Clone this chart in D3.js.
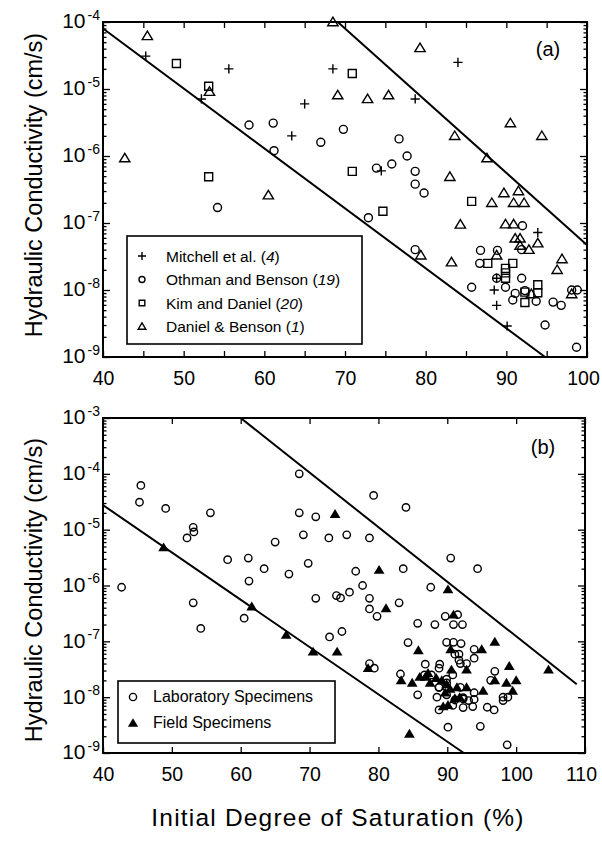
<!DOCTYPE html>
<html><head><meta charset="utf-8">
<script src="https://cdn.jsdelivr.net/npm/d3@7"></script>
<style>
body{margin:0;background:#fff}
svg{display:block}
text{font-family:"Liberation Sans",Arial,Helvetica,sans-serif;fill:#000}
</style>
</head><body><svg id="c" width="602" height="841"></svg>
<script>
// ---- data: [initial degree of saturation (%), hydraulic conductivity (cm/s)] ----
const mitchell = [[45.3,3.1e-5],[52.2,7.1e-6],[55.6,2.0e-5],[65.0,6.0e-6],[63.4,2.0e-6],[68.5,2.0e-5],[84.0,2.5e-5],[78.7,7.1e-6],[74.5,6.0e-7],[93.9,7.2e-8],[88.5,1.0e-8],[88.8,5.9e-9],[90.1,2.9e-9],[88.8,1.5e-8]];
const othman = [[58.1,2.9e-6],[61.1,3.1e-6],[61.2,1.2e-6],[67.0,1.6e-6],[54.2,1.7e-7],[69.8,2.5e-6],[76.7,1.8e-6],[77.7,1.0e-6],[75.8,7.6e-7],[73.9,6.6e-7],[78.7,5.9e-7],[78.7,3.8e-7],[79.8,2.8e-7],[72.9,1.2e-7],[78.7,4.0e-8],[85.7,1.1e-8],[94.8,3.0e-9],[98.7,1.4e-9],[95.8,6.6e-9],[96.8,5.9e-9],[98.1,1.0e-8],[98.8,1.0e-8],[92.0,9.1e-8],[86.8,3.9e-8],[88.9,3.9e-8],[86.7,2.5e-8],[88.8,1.5e-8],[89.9,1.1e-8],[91.9,1.5e-8],[91.1,8.9e-9],[90.8,7.1e-9],[92.3,9.8e-9],[93.7,6.8e-9],[91.9,4.0e-8]];
const kim = [[49.1,2.4e-5],[53.1,1.1e-5],[53.1,4.9e-7],[70.9,1.7e-5],[70.9,5.9e-7],[74.7,1.5e-7],[85.7,2.1e-7],[87.7,2.5e-8],[89.9,2.1e-8],[90.8,2.5e-8],[89.9,1.8e-8],[89.9,1.5e-8],[92.3,9.3e-9],[92.3,6.5e-9],[93.9,1.2e-8],[93.9,9.1e-9]];
const danielBenson = [[45.5,6.2e-5],[42.7,9.3e-7],[53.2,9.1e-6],[60.5,2.6e-7],[68.5,1.0e-4],[79.3,4.1e-5],[69.1,8.1e-6],[72.8,7.1e-6],[75.4,8.1e-6],[90.5,3.1e-6],[94.4,2.0e-6],[83.6,2.0e-6],[87.6,9.3e-7],[83.0,4.9e-7],[89.7,2.8e-7],[91.5,3.0e-7],[88.2,2.0e-7],[90.9,2.0e-7],[92.2,2.0e-7],[84.3,9.5e-8],[89.9,9.6e-8],[90.9,9.6e-8],[91.1,5.9e-8],[91.7,5.9e-8],[91.7,4.6e-8],[92.8,4.0e-8],[93.9,5.0e-8],[79.4,3.3e-8],[83.2,2.6e-8],[88.8,3.3e-8],[96.9,2.9e-8],[96.3,2.0e-8],[98.1,8.7e-9],[93.1,8.7e-9]];
const field = [[48.8,4.8e-6],[61.6,4.2e-7],[66.6,1.3e-7],[70.5,6.5e-8],[73.7,1.9e-5],[80.1,1.9e-6],[81.1,3.9e-7],[74.0,6.5e-8],[78.5,3.3e-8],[90.1,8.5e-7],[90.9,3.0e-7],[96.9,9.8e-8],[104.7,3.1e-8],[84.5,2.2e-9],[85.8,6.9e-8],[95.0,7.2e-8],[99.0,3.6e-8],[96.9,2.0e-8],[98.6,1.8e-8],[100.0,2.0e-8],[99.5,1.3e-8],[95.2,1.3e-8],[92.8,3.1e-8],[92.8,1.5e-8],[90.5,7.2e-8],[83.3,2.0e-8],[84.9,1.8e-8],[86.0,2.3e-8],[86.8,2.3e-8],[87.5,1.8e-8],[87.2,2.7e-8],[88.4,2.2e-8],[89.2,2.0e-8],[89.9,1.7e-8],[90.6,3.1e-8],[90.4,1.4e-8],[89.7,1.2e-8],[91.4,1.5e-8],[91.8,1.0e-8],[90.1,7.2e-9],[89.4,6.8e-9],[91.1,9.5e-9]];
const laboratory = [].concat(mitchell, othman, kim, danielBenson);

const boundsA = [[[40,8.0e-5],[94.8,1e-9]], [[69.1,1e-4],[100,4.7e-8]]];
const boundsB = [[[40,2.75e-5],[92.4,1e-9]], [[60,1e-3],[108.8,1.7e-8]]];

const xTickLabelsA = [40,50,60,70,80,90,100];
const xTicksA = [40,45,50,55,60,65,70,75,80,85,90,95,100];
const xTickLabelsB = [40,50,60,70,80,90,100,110];
const yExpA = [-9,-8,-7,-6,-5,-4];
const yExpB = [-9,-8,-7,-6,-5,-4,-3];

const legendA = [["Mitchell et al.","4"],["Othman and Benson","19"],["Kim and Daniel","20"],["Daniel & Benson","1"]];
const legendB = ["Laboratory Specimens","Field Specimens"];
const yTitle = "Hydraulic Conductivity (cm/s)";
const xTitle = "Initial Degree of Saturation (%)";

// ---- drawing ----
const svg = d3.select("#c");

const shapes = {
  plus: s => `M${-s},0H${s}M0,${-s}V${s}`,
  square: s => `M${-s},${-s}H${s}V${s}H${-s}Z`,
  tri: s => `M0,${-s*1.05}L${s*1.12},${s*0.8}L${-s*1.12},${s*0.8}Z`
};

function panel(o){
  const g = svg.append("g");
  const x = d3.scaleLinear().domain(o.xDomain).range([o.left,o.right]);
  const y = d3.scaleLog().domain(o.yDomain).range([o.bottom,o.top]);
  const decades = o.yExp.map(e => Math.pow(10,e));
  const minors = [];
  for (let i=0;i<o.yExp.length-1;i++) for (let m=2;m<10;m++) minors.push(m*Math.pow(10,o.yExp[i]));

  const axG = (gen, tr) => {
    const a = g.append("g").attr("transform", tr).call(gen);
    a.select(".domain").remove();
    a.selectAll(".tick line").attr("stroke","#000").attr("stroke-width",1.3);
    return a;
  };
  // x axes
  const bx = axG(d3.axisBottom(x).tickValues(o.xTicks).tickSizeInner(-6).tickSizeOuter(0).tickPadding(o.xPad)
      .tickFormat(d => o.xLabels.includes(d) ? d : ""), `translate(0,${o.bottom})`);
  bx.selectAll(".tick text").attr("font-size",19.5).attr("fill","#000").attr("font-family",null)
    .attr("dx", d => (x(d) > 580 ? -4 : 0));
  axG(d3.axisTop(x).tickValues(o.xTicks).tickSizeInner(-6).tickSizeOuter(0).tickFormat(""), `translate(0,${o.top})`);
  // y axes major
  const ly = axG(d3.axisLeft(y).tickValues(decades).tickSizeInner(-7).tickSizeOuter(0).tickPadding(3), `translate(${o.left},0)`);
  ly.selectAll(".tick text").attr("font-family",null).attr("font-size",21).attr("fill","#000").attr("dy","0.28em").text(null)
    .each(function(d){
      const t = d3.select(this);
      const e = Math.round(Math.log10(d));
      t.append("tspan").text("10");
      t.append("tspan").attr("font-size",14).attr("dx",2).attr("dy",-8.5).text("-" + Math.abs(e));
    });
  axG(d3.axisRight(y).tickValues(decades).tickSizeInner(-7).tickSizeOuter(0).tickFormat(""), `translate(${o.right},0)`);
  // minor
  axG(d3.axisLeft(y).tickValues(minors).tickSizeInner(-3.5).tickSizeOuter(0).tickFormat(""), `translate(${o.left},0)`);
  axG(d3.axisRight(y).tickValues(minors).tickSizeInner(-3.5).tickSizeOuter(0).tickFormat(""), `translate(${o.right},0)`);

  // frame
  g.append("rect").attr("x",o.left).attr("y",o.top).attr("width",o.right-o.left).attr("height",o.bottom-o.top)
    .attr("fill","none").attr("stroke","#000").attr("stroke-width",2);

  const pg = g.append("g");
  // bound lines
  const line = d3.line().x(d=>x(d[0])).y(d=>y(d[1]));
  pg.selectAll("path.bound").data(o.bounds).join("path").attr("class","bound")
    .attr("d",line).attr("fill","none").attr("stroke","#000").attr("stroke-width",2);

  const mk = pg.append("g");
  return {g, x, y, mk};
}

// Panel (a)
const A = panel({id:"a", xDomain:[40,100], yDomain:[1e-9,1e-4], left:103, right:587, top:22, bottom:357,
  xTicks:xTicksA, xLabels:xTickLabelsA, yExp:yExpA, xPad:14, bounds:boundsA});
const sw = 1.4;
A.mk.selectAll("circle.o").data(othman).join("circle").attr("class","o")
  .attr("cx",d=>A.x(d[0])).attr("cy",d=>A.y(d[1])).attr("r",4).attr("fill","none").attr("stroke","#000").attr("stroke-width",sw);
A.mk.selectAll("path.k").data(kim).join("path").attr("class","k")
  .attr("transform",d=>`translate(${A.x(d[0])},${A.y(d[1])})`).attr("d",shapes.square(4)).attr("fill","none").attr("stroke","#000").attr("stroke-width",sw);
A.mk.selectAll("path.d").data(danielBenson).join("path").attr("class","d")
  .attr("transform",d=>`translate(${A.x(d[0])},${A.y(d[1])})`).attr("d",shapes.tri(4.6)).attr("fill","none").attr("stroke","#000").attr("stroke-width",sw);
A.mk.selectAll("path.m").data(mitchell).join("path").attr("class","m")
  .attr("transform",d=>`translate(${A.x(d[0])},${A.y(d[1])})`).attr("d",shapes.plus(4.6)).attr("fill","none").attr("stroke","#000").attr("stroke-width",sw);

A.g.append("text").attr("x",548).attr("y",56).attr("font-size",20).attr("text-anchor","middle").text("(a)");

// legend (a)
const lgA = A.g.append("g");
lgA.append("rect").attr("x",127).attr("y",236).attr("width",235).attr("height",108).attr("fill","#fff").attr("stroke","#000").attr("stroke-width",1.6);
const legShapes = [shapes.plus(4), null, shapes.square(2.8), shapes.tri(3.4)];
legendA.forEach((d,i)=>{
  const cy = 256 + i*23.5;
  if (i===1) lgA.append("circle").attr("cx",142).attr("cy",cy).attr("r",3).attr("fill","none").attr("stroke","#000").attr("stroke-width",1.4);
  else lgA.append("path").attr("transform",`translate(142,${cy})`).attr("d",legShapes[i]).attr("fill","none").attr("stroke","#000").attr("stroke-width",1.4);
  const t = lgA.append("text").attr("x",166).attr("y",cy+5.5).attr("font-size",15.5);
  t.append("tspan").text(d[0] + " (");
  t.append("tspan").attr("font-style","italic").text(d[1]);
  t.append("tspan").text(")");
});

// Panel (b)
const B = panel({id:"b", xDomain:[40,110], yDomain:[1e-9,1e-3], left:103, right:585, top:418, bottom:753,
  xTicks:xTickLabelsB, xLabels:xTickLabelsB, yExp:yExpB, xPad:14, bounds:boundsB});
B.mk.selectAll("circle.l").data(laboratory).join("circle").attr("class","l")
  .attr("cx",d=>B.x(d[0])).attr("cy",d=>B.y(d[1])).attr("r",3.7).attr("fill","none").attr("stroke","#000").attr("stroke-width",1.4);
B.mk.selectAll("path.f").data(field).join("path").attr("class","f")
  .attr("transform",d=>`translate(${B.x(d[0])},${B.y(d[1])})`).attr("d",shapes.tri(4.8)).attr("fill","#000");

B.g.append("text").attr("x",543).attr("y",454).attr("font-size",20).attr("text-anchor","middle").text("(b)");

const lgB = B.g.append("g");
lgB.append("rect").attr("x",118).attr("y",681).attr("width",217).attr("height",62).attr("fill","#fff").attr("stroke","#000").attr("stroke-width",1.6);
lgB.append("circle").attr("cx",133).attr("cy",697).attr("r",3.6).attr("fill","none").attr("stroke","#000").attr("stroke-width",1.4);
lgB.append("path").attr("transform","translate(133,723)").attr("d",shapes.tri(4.6)).attr("fill","#000");
legendB.forEach((d,i)=>{
  lgB.append("text").attr("x",153).attr("y",702 + i*26).attr("font-size",16).text(d);
});

// titles
svg.append("text").attr("transform","translate(42,185) rotate(-90)").attr("text-anchor","middle").attr("font-size",23.5).text(yTitle);
svg.append("text").attr("transform","translate(42,590) rotate(-90)").attr("text-anchor","middle").attr("font-size",23.5).text(yTitle);
svg.append("text").attr("x",338).attr("y",826).attr("text-anchor","middle").attr("font-size",24.5).attr("letter-spacing",1.2).text(xTitle);
</script>
</body></html>
